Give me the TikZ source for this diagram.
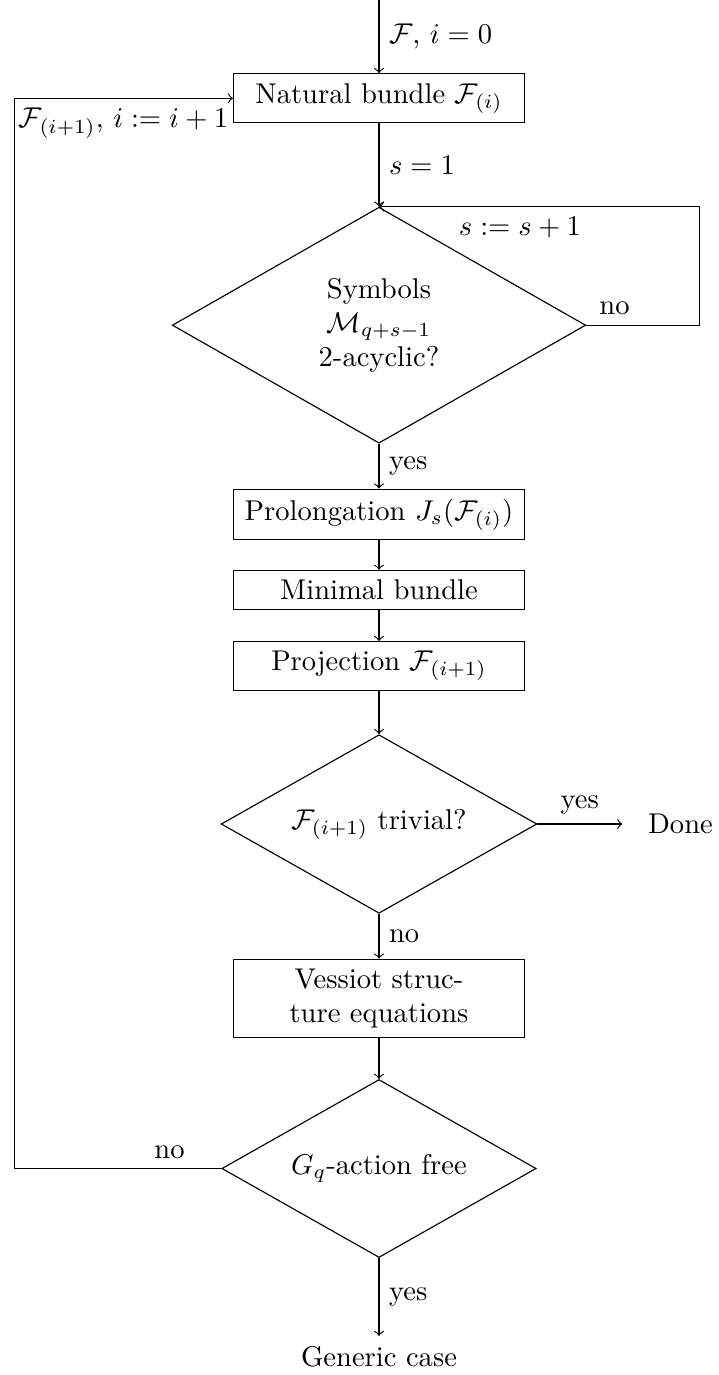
\documentclass[tikz,border=0pt]{standalone}
\usetikzlibrary{shapes.geometric}
\begin{document}
\begin{tikzpicture}[x=0.35pt, y=-0.35pt,
  stepbox/.style={draw, rectangle, text width=95.2pt, align=center, inner sep=3.333pt},
  decision/.style={draw, diamond, aspect=1.75, inner sep=0pt, align=center},
  flow/.style={->}
]
\useasboundingbox (0,0) rectangle (718,1375);

% nodes of the flow
\coordinate (start) at (379,0);
\node[stepbox] (nat) at (379,98.3) {Natural bundle $\mathcal{F}_{(i)}$};
\node[decision, minimum width=144.7pt, minimum height=82.6pt] (sym) at (379,325.2)
  {Symbols\\ $\mathcal{M}_{q+s-1}$\\ 2-acyclic?};
\node[stepbox] (pro) at (379,514.5) {Prolongation $J_s(\mathcal{F}_{(i)})$};
\node[stepbox] (min) at (379,590) {Minimal bundle};
\node[stepbox] (prj) at (379,666) {Projection $\mathcal{F}_{(i+1)}$};
\node[decision, minimum width=110.5pt, minimum height=62.5pt] (triv) at (379,824)
  {$\mathcal{F}_{(i+1)}$ trivial?};
\node (done) at (680.5,824) {Done};
\node[stepbox] (ves) at (379,998.5) {Vessiot struc-\\ture equations};
\node[decision, minimum width=110pt, minimum height=62.3pt] (free) at (379,1168.5)
  {$G_q$-action free};
\node (gen) at (379,1356.5) {Generic case};

% corners of the two feedback loops
\coordinate (rloop) at (699.3,325.2);
\coordinate (lloop) at (14.3,1168.5);

% connectors
\draw[flow] (start) -- node[right] (l0) {$\mathcal{F}$, $i=0$} (nat);
\draw[flow] (nat) -- node[right] (l1) {$s=1$} (sym);
\draw[flow] (sym.east) -- node[above, pos=0.25] (l2) {no} (rloop)
  |- node[below, pos=0.78] (l3) {$s:=s+1$} (sym.north);
\draw[flow] (sym) -- node[right] (l4) {yes} (pro);
\draw[flow] (pro) -- (min);
\draw[flow] (min) -- (prj);
\draw[flow] (prj) -- (triv);
\draw[flow, shorten >=5.5pt] (triv) -- node[above, pos=0.42] (l5) {yes} (done);
\draw[flow] (triv) -- node[right] (l6) {no} (ves);
\draw[flow] (ves) -- (free);
\draw[flow] (free) -- node[right] (l7) {yes} (gen);
\draw[flow] (free.west) -- node[above, pos=0.25] (l8) {no} (lloop)
  |- node[below, pos=0.75] (l9) {$\mathcal{F}_{(i+1)}$, $i:=i+1$} (nat.west);
\end{tikzpicture}
\end{document}
